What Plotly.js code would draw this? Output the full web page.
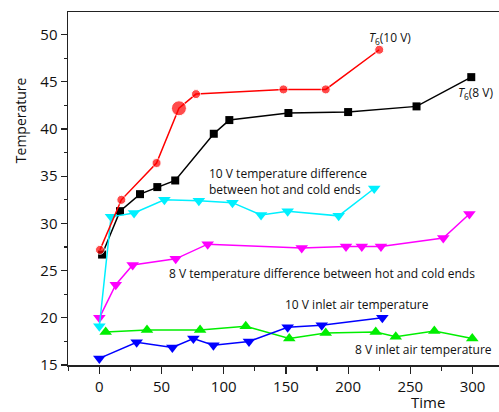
<!DOCTYPE html>
<html>
<head>
<meta charset="utf-8">
<script src="https://cdn.plot.ly/plotly-3.0.1.min.js"></script>
<style>html,body{margin:0;padding:0;background:#fff;}#chart{width:499px;height:412px;}</style>
</head>
<body>
<div id="chart"></div>
<script>
// T6 at 10 V
const red_x = [0.5, 17.7, 46, 64, 77.7, 148, 182, 225];
const red_y = [27.2, 32.5, 36.4, 42.2, 43.7, 44.2, 44.2, 48.4];
// T6 at 8 V
const black_x = [2.2, 16.6, 32.7, 46.6, 61, 92, 104.5, 152, 200, 255, 299];
const black_y = [26.7, 31.3, 33.1, 33.85, 34.55, 39.5, 40.95, 41.7, 41.8, 42.4, 45.5];
// 10 V temperature difference between hot and cold ends
const cyan_x = [0, 9.4, 27.9, 52.3, 80, 107, 130, 151.4, 192.4, 221];
const cyan_y = [19.1, 30.7, 31.1, 32.5, 32.4, 32.2, 30.9, 31.3, 30.8, 33.7];
// 8 V temperature difference between hot and cold ends
const magenta_x = [0, 13.2, 26.8, 61.4, 87.1, 162.7, 198.3, 211, 226.4, 276.5, 297.5];
const magenta_y = [20.0, 23.5, 25.6, 26.25, 27.8, 27.4, 27.55, 27.55, 27.55, 28.45, 31.0];
// 10 V inlet air temperature
const blue_x = [0, 30, 58.7, 75.6, 91.7, 120.3, 151.4, 178.8, 227.5];
const blue_y = [15.7, 17.4, 16.85, 17.8, 17.1, 17.5, 19.0, 19.2, 20.0];
// 8 V inlet air temperature
const green_x = [5.1, 38.3, 81, 117.7, 152.7, 182, 222.2, 238.3, 269.3, 299.8];
const green_y = [18.5, 18.7, 18.7, 19.1, 17.8, 18.4, 18.5, 18.0, 18.6, 17.8];

const x_ticks = [0, 50, 100, 150, 200, 250, 300];
const y_ticks = [15, 20, 25, 30, 35, 40, 45, 50];

const lw = 1.5;
const traces = [
  {x: green_x, y: green_y, mode: 'lines+markers', line: {color: '#00ee00', width: lw},
   marker: {symbol: 'triangle-up', size: 11, color: '#00ee00'}},
  {x: blue_x, y: blue_y, mode: 'lines+markers', line: {color: '#0000ff', width: lw},
   marker: {symbol: 'triangle-down', size: 11, color: '#0000ff'}},
  {x: magenta_x, y: magenta_y, mode: 'lines+markers', line: {color: '#ff00ff', width: lw},
   marker: {symbol: 'triangle-down', size: 11, color: '#ff00ff'}},
  {x: black_x, y: black_y, mode: 'lines+markers', line: {color: '#000000', width: lw},
   marker: {symbol: 'square', size: 8, color: '#000000'}},
  {x: cyan_x, y: cyan_y, mode: 'lines+markers', line: {color: '#00f0ff', width: lw},
   marker: {symbol: 'triangle-down', size: 11, color: '#00f0ff'}},
  {x: red_x, y: red_y, mode: 'lines+markers', line: {color: '#ff0000', width: lw},
   marker: {symbol: 'circle', size: [9, 9, 9, 15, 9, 9, 9, 9], color: '#ff0000'}}
];

const fnt = {family: 'Open Sans, sans-serif', size: 12, color: '#111'};
const annotations = [
  {x: 215, y: 49.6, text: '<i>T</i><sub>6</sub>(10 V)'},
  {x: 286.7, y: 43.85, text: '<i>T</i><sub>6</sub>(8 V)'},
  {x: 86.3, y: 34.4, text: '10 V temperature difference<br>between hot and cold ends'},
  {x: 54.2, y: 24.65, text: '8 V temperature difference between hot and cold ends'},
  {x: 147.9, y: 21.37, text: '10 V inlet air temperature'},
  {x: 204.2, y: 16.67, text: '8 V inlet air temperature'}
].map(a => Object.assign({xref: 'x', yref: 'y', xanchor: 'left', yanchor: 'middle',
  align: 'left', showarrow: false, font: fnt}, a));

annotations.push({xref: 'paper', yref: 'paper', x: 0.835, y: -0.105, text: 'Time',
  showarrow: false, xanchor: 'center', yanchor: 'middle',
  font: {family: 'Open Sans, sans-serif', size: 15, color: '#111'}});
annotations.push({xref: 'paper', yref: 'paper', x: -0.111, y: 0.694, text: 'Temperature',
  showarrow: false, xanchor: 'center', yanchor: 'middle', textangle: -90,
  font: {family: 'Open Sans, sans-serif', size: 14, color: '#111'}});

const layout = {
  width: 499, height: 412,
  margin: {l: 68, r: 0, t: 12, b: 47, pad: 0},
  paper_bgcolor: '#fff', plot_bgcolor: '#fff',
  showlegend: false,
  font: {family: 'Open Sans, sans-serif', size: 14, color: '#111'},
  xaxis: {
    range: [-25.2, 321.3], tickvals: x_ticks, ticktext: x_ticks.map(String),
    showgrid: false, zeroline: false, showline: true, linecolor: '#222', linewidth: 1.5,
    mirror: true, ticks: 'outside', ticklen: 7, tickwidth: 1.2, tickcolor: '#222',
    tickfont: {size: 15},
    minor: {dtick: 25, tick0: 0, ticks: 'outside', ticklen: 4, tickwidth: 1.2, tickcolor: '#222', showgrid: false}
  },
  yaxis: {
    range: [15, 52.4], tickvals: y_ticks, ticktext: y_ticks.map(String),
    showgrid: false, zeroline: false, showline: true, linecolor: '#222', linewidth: 1.5,
    ticks: 'outside', ticklen: 6, tickwidth: 1.2, tickcolor: '#222',
    tickfont: {size: 15},
    minor: {dtick: 2.5, tick0: 0, ticks: 'outside', ticklen: 3, tickwidth: 1.2, tickcolor: '#222', showgrid: false}
  },
  annotations: annotations
};

Plotly.newPlot('chart', traces, layout, {displayModeBar: false, staticPlot: true});
</script>
</body>
</html>
